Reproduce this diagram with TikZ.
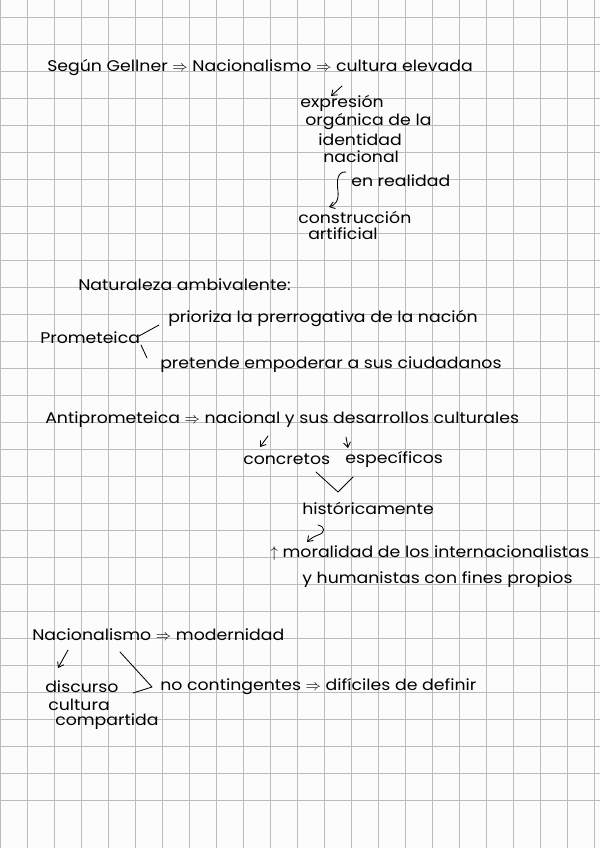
\documentclass[tikz,border=0pt]{standalone}
\usepackage{fontspec}
\setmainfont{Poppins}[FakeStretch=1.12]
\usetikzlibrary{positioning}
\usetikzlibrary{arrows.meta}
\definecolor{paper}{RGB}{252,252,252}
\definecolor{gridline}{RGB}{188,188,188}

\begin{document}
\begin{tikzpicture}[
    x=0.025cm, y=-0.025cm,
    note/.style={anchor=west, inner sep=0pt, font=\fontsize{11}{13}\selectfont},
    pen/.style={line width=0.6pt, black, line cap=round, line join=round},
    >={Straight Barb[length=3.5pt, width=5pt]}
]
    \useasboundingbox (0,0) rectangle (600,848);
    \fill[paper] (0,0) rectangle (600,848);
    \foreach \x in {0,27,...,594} {
        \draw[gridline, line width=0.5pt] (\x,0) -- (\x,848);
    }
    \foreach \y in {17,44,...,826} {
        \draw[gridline, line width=0.5pt] (0,\y) -- (600,\y);
    }

    % Gellner
    \node[note] (gellner) at (47,68) {Según Gellner $\Rightarrow$ Nacionalismo $\Rightarrow$ cultura elevada};
    \node[note] (expr1) at (300,103) {expresión};
    \node[note] (expr2) at (305,122) {orgánica de la};
    \node[note] (expr3) at (318,140) {identidad};
    \node[note] (expr4) at (323,157) {nacional};
    \node[note] (realidad) at (351,181) {en realidad};
    \node[note] (constr1) at (298,217) {construcción};
    \node[note] (constr2) at (308,234) {artificial};

    \coordinate (g1) at (342,86);
    \coordinate (g2) at (331,96);
    \draw[pen,->] (g1) -- (g2);
    \coordinate (r1) at (346,172);
    \coordinate (r2) at (329,207);
    \draw[pen,->] (r1) .. controls (336,171) and (337,184) .. (338,191)
        .. controls (339,201) and (335,205) .. (r2);

    % naturaleza ambivalente
    \node[note] (ambiv) at (78,285) {Naturaleza ambivalente:};
    \node[note] (prom) at (40,338) {Prometeica};
    \node[note] (prioriza) at (168,318) {prioriza la prerrogativa de la nación};
    \node[note] (pretende) at (160,365) {pretende empoderar a sus ciudadanos};
    \coordinate (p1) at (139,336);
    \coordinate (p2) at (159,325);
    \coordinate (p3) at (141,345);
    \coordinate (p4) at (147,358);
    \draw[pen] (p1) -- (p2);
    \draw[pen] (p3) -- (p4);

    % antiprometeica
    \node[note] (anti) at (45,420) {Antiprometeica $\Rightarrow$ nacional y sus desarrollos culturales};
    \node[note] (concretos) at (243,459) {concretos};
    \node[note] (especificos) at (345,459) {específicos};
    \node[note] (historic) at (302,508) {históricamente};
    \node[note] (moral) at (270,553) {$\uparrow$ moralidad de los internacionalistas};
    \node[note] (humanistas) at (302,580) {y humanistas con fines propios};

    \coordinate (c1) at (268,436);
    \coordinate (c2) at (260,447);
    \coordinate (e1) at (346,437);
    \coordinate (e2) at (348,448);
    \draw[pen,->] (c1) -- (c2);
    \draw[pen,->] (e1) -- (e2);
    \coordinate (v1) at (316,472);
    \coordinate (v2) at (338,492);
    \coordinate (v3) at (353,477);
    \draw[pen] (v1) -- (v2) -- (v3);
    \coordinate (h1) at (318,525);
    \coordinate (h2) at (307,542);
    \draw[pen,->] (h1) .. controls (326,527) and (325,533) .. (318,535) .. controls (313,537) and (310,539) .. (h2);

    % modernidad
    \node[note] (modern) at (32,635) {Nacionalismo $\Rightarrow$ modernidad};
    \node[note] (disc1) at (45,687) {discurso};
    \node[note] (disc2) at (48,705) {cultura};
    \node[note] (disc3) at (55,722) {compartida};
    \node[note] (contin) at (160,687) {no contingentes $\Rightarrow$ difíciles de definir};
    \coordinate (m1) at (68,650);
    \coordinate (m2) at (58,668);
    \draw[pen,->] (m1) -- (m2);
    \coordinate (k1) at (120,652);
    \coordinate (k2) at (152,687);
    \coordinate (k3) at (133,693);
    \draw[pen] (k1) -- (k2) -- (k3);
\end{tikzpicture}
\end{document}
